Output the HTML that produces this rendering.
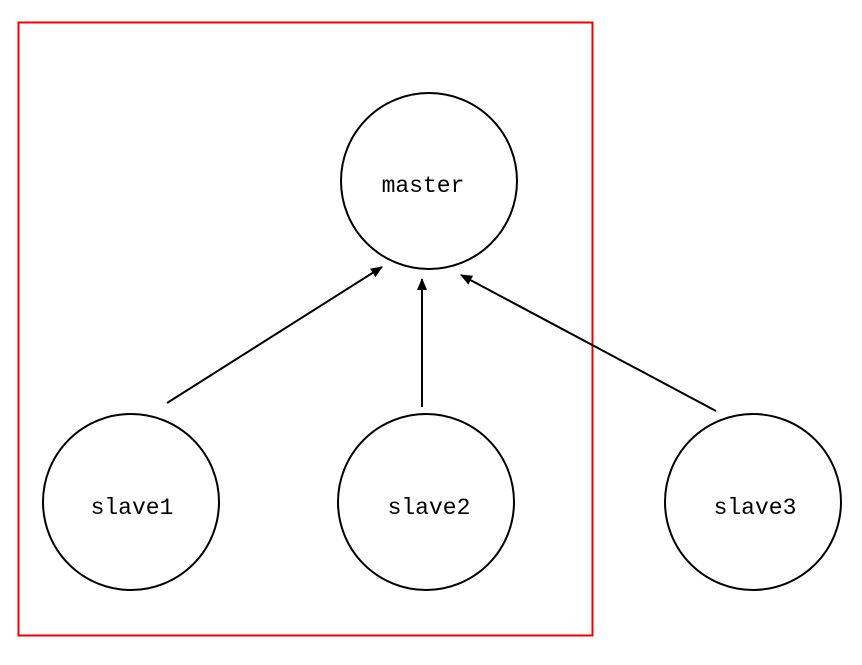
<!DOCTYPE html>
<html><head><meta charset="utf-8"><style>
html,body{margin:0;padding:0;background:#fff;}
svg{display:block;}
text{font-family:"Liberation Mono","Noto Serif CJK SC",monospace;font-size:23px;fill:#000;font-weight:300;}
</style></head><body>
<svg width="862" height="665" viewBox="0 0 862 665" xmlns="http://www.w3.org/2000/svg">
<defs>
<marker id="a" markerWidth="12" markerHeight="12" refX="11" refY="6" orient="auto" markerUnits="userSpaceOnUse">
<path d="M0,1 L12,6 L0,11 z" fill="#000"/>
</marker>
</defs>
<rect x="18.5" y="22.5" width="574" height="613" fill="none" stroke="#e00" stroke-width="2"/>
<circle cx="429" cy="181" r="88" fill="none" stroke="#000" stroke-width="2"/>
<circle cx="131" cy="502" r="88" fill="none" stroke="#000" stroke-width="2"/>
<circle cx="426" cy="502" r="88" fill="none" stroke="#000" stroke-width="2"/>
<circle cx="753" cy="502" r="88" fill="none" stroke="#000" stroke-width="2"/>
<line x1="167" y1="403" x2="382" y2="267" stroke="#000" stroke-width="2" marker-end="url(#a)"/>
<line x1="422" y1="407" x2="422" y2="279" stroke="#000" stroke-width="2" marker-end="url(#a)"/>
<line x1="716" y1="411" x2="461" y2="275" stroke="#000" stroke-width="2" marker-end="url(#a)"/>
<text x="423" y="192" text-anchor="middle">master</text>
<text x="132" y="514" text-anchor="middle">slave1</text>
<text x="429" y="514" text-anchor="middle">slave2</text>
<text x="755" y="514" text-anchor="middle">slave3</text>
</svg>
</body></html>
